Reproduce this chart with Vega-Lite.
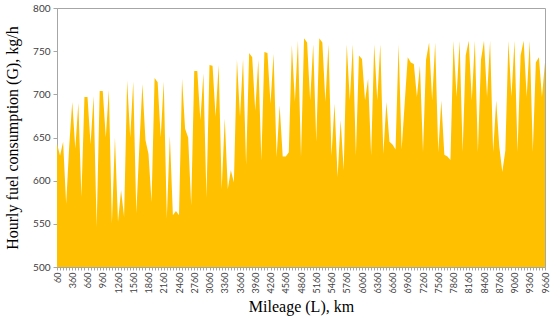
{
  "$schema": "https://vega.github.io/schema/vega-lite/v6.json",
  "width": 488,
  "height": 259,
  "autosize": {"type": "none"},
  "padding": {"left": 57, "top": 8, "right": 5, "bottom": 56},
  "background": "white",
  "config": {"view": {"stroke": "#A6A6A6", "strokeWidth": 1}},
  "data": {"values": [
    {"L":60,"G":643},{"L":120,"G":629},{"L":180,"G":645},{"L":240,"G":573},{"L":300,"G":640},
    {"L":360,"G":691},{"L":420,"G":637},{"L":480,"G":690},{"L":540,"G":581},{"L":600,"G":697},
    {"L":660,"G":697},{"L":720,"G":642},{"L":780,"G":698},{"L":840,"G":546},{"L":900,"G":704},
    {"L":960,"G":704},{"L":1020,"G":650},{"L":1080,"G":705},{"L":1140,"G":550},{"L":1200,"G":650},
    {"L":1260,"G":552},{"L":1320,"G":589},{"L":1380,"G":558},{"L":1440,"G":716},{"L":1500,"G":650},
    {"L":1560,"G":715},{"L":1620,"G":562},{"L":1680,"G":640},{"L":1740,"G":712},{"L":1800,"G":647},
    {"L":1860,"G":631},{"L":1920,"G":575},{"L":1980,"G":719},{"L":2040,"G":714},{"L":2100,"G":650},
    {"L":2160,"G":715},{"L":2220,"G":556},{"L":2280,"G":652},{"L":2340,"G":560},{"L":2400,"G":565},
    {"L":2460,"G":560},{"L":2520,"G":718},{"L":2580,"G":660},{"L":2640,"G":650},{"L":2700,"G":571},
    {"L":2760,"G":727},{"L":2820,"G":727},{"L":2880,"G":670},{"L":2940,"G":724},{"L":3000,"G":580},
    {"L":3060,"G":734},{"L":3120,"G":733},{"L":3180,"G":674},{"L":3240,"G":734},{"L":3300,"G":590},
    {"L":3360,"G":672},{"L":3420,"G":590},{"L":3480,"G":612},{"L":3540,"G":598},{"L":3600,"G":740},
    {"L":3660,"G":674},{"L":3720,"G":741},{"L":3780,"G":618},{"L":3840,"G":748},{"L":3900,"G":743},
    {"L":3960,"G":681},{"L":4020,"G":740},{"L":4080,"G":623},{"L":4140,"G":749},{"L":4200,"G":748},
    {"L":4260,"G":689},{"L":4320,"G":747},{"L":4380,"G":627},{"L":4440,"G":687},{"L":4500,"G":628},
    {"L":4560,"G":628},{"L":4620,"G":633},{"L":4680,"G":757},{"L":4740,"G":691},{"L":4800,"G":762},
    {"L":4860,"G":627},{"L":4920,"G":765},{"L":4980,"G":760},{"L":5040,"G":693},{"L":5100,"G":758},
    {"L":5160,"G":645},{"L":5220,"G":765},{"L":5280,"G":760},{"L":5340,"G":691},{"L":5400,"G":758},
    {"L":5460,"G":629},{"L":5520,"G":689},{"L":5580,"G":604},{"L":5640,"G":670},{"L":5700,"G":612},
    {"L":5760,"G":758},{"L":5820,"G":693},{"L":5880,"G":758},{"L":5940,"G":629},{"L":6000,"G":745},
    {"L":6060,"G":741},{"L":6120,"G":693},{"L":6180,"G":718},{"L":6240,"G":629},{"L":6300,"G":758},
    {"L":6360,"G":693},{"L":6420,"G":758},{"L":6480,"G":631},{"L":6540,"G":691},{"L":6600,"G":645},
    {"L":6660,"G":642},{"L":6720,"G":636},{"L":6780,"G":758},{"L":6840,"G":636},{"L":6900,"G":690},
    {"L":6960,"G":743},{"L":7020,"G":737},{"L":7080,"G":735},{"L":7140,"G":697},{"L":7200,"G":733},
    {"L":7260,"G":633},{"L":7320,"G":740},{"L":7380,"G":760},{"L":7440,"G":693},{"L":7500,"G":760},
    {"L":7560,"G":633},{"L":7620,"G":693},{"L":7680,"G":630},{"L":7740,"G":628},{"L":7800,"G":624},
    {"L":7860,"G":762},{"L":7920,"G":697},{"L":7980,"G":762},{"L":8040,"G":633},{"L":8100,"G":745},
    {"L":8160,"G":762},{"L":8220,"G":693},{"L":8280,"G":762},{"L":8340,"G":633},{"L":8400,"G":740},
    {"L":8460,"G":762},{"L":8520,"G":697},{"L":8580,"G":762},{"L":8640,"G":633},{"L":8700,"G":693},
    {"L":8760,"G":640},{"L":8820,"G":610},{"L":8880,"G":635},{"L":8940,"G":762},{"L":9000,"G":697},
    {"L":9060,"G":762},{"L":9120,"G":633},{"L":9180,"G":745},{"L":9240,"G":762},{"L":9300,"G":697},
    {"L":9360,"G":762},{"L":9420,"G":633},{"L":9480,"G":737},{"L":9540,"G":743},{"L":9600,"G":697},
    {"L":9660,"G":737}
  ]},
  "mark": {"type": "area", "color": "#FFC000", "clip": true},
  "encoding": {
    "x": {
      "field": "L",
      "type": "ordinal",
      "scale": {"type": "point", "padding": 0},
      "axis": {
        "title": "Mileage (L), km",
        "titleFont": "Liberation Serif",
        "titleFontSize": 16,
        "titleFontWeight": "normal",
        "titleColor": "#000000",
        "titlePadding": 6,
        "labelAngle": -90,
        "labelAlign": "right",
        "labelBaseline": "middle",
        "labelFont": "Lato",
        "labelFontSize": 9,
        "labelColor": "#404040",
        "labelPadding": 2,
        "labelOverlap": false,
        "labelExpr": "(datum.value - 60) % 300 == 0 ? datum.label : ''",
        "tickSize": 3,
        "tickColor": "#A6A6A6",
        "domainColor": "#A6A6A6",
        "grid": false
      }
    },
    "y": {
      "field": "G",
      "type": "quantitative",
      "scale": {"domain": [500, 800], "zero": false, "nice": false},
      "axis": {
        "title": "Hourly fuel consumption (G), kg/h",
        "titleFont": "Liberation Serif",
        "titleFontSize": 16,
        "titleFontWeight": "normal",
        "titleColor": "#000000",
        "titlePadding": 12,
        "values": [500, 550, 600, 650, 700, 750, 800],
        "labelFont": "Lato",
        "labelFontSize": 10,
        "labelColor": "#404040",
        "labelPadding": 3,
        "tickSize": 4,
        "tickColor": "#A6A6A6",
        "domainColor": "#A6A6A6",
        "grid": false
      }
    }
  }
}
